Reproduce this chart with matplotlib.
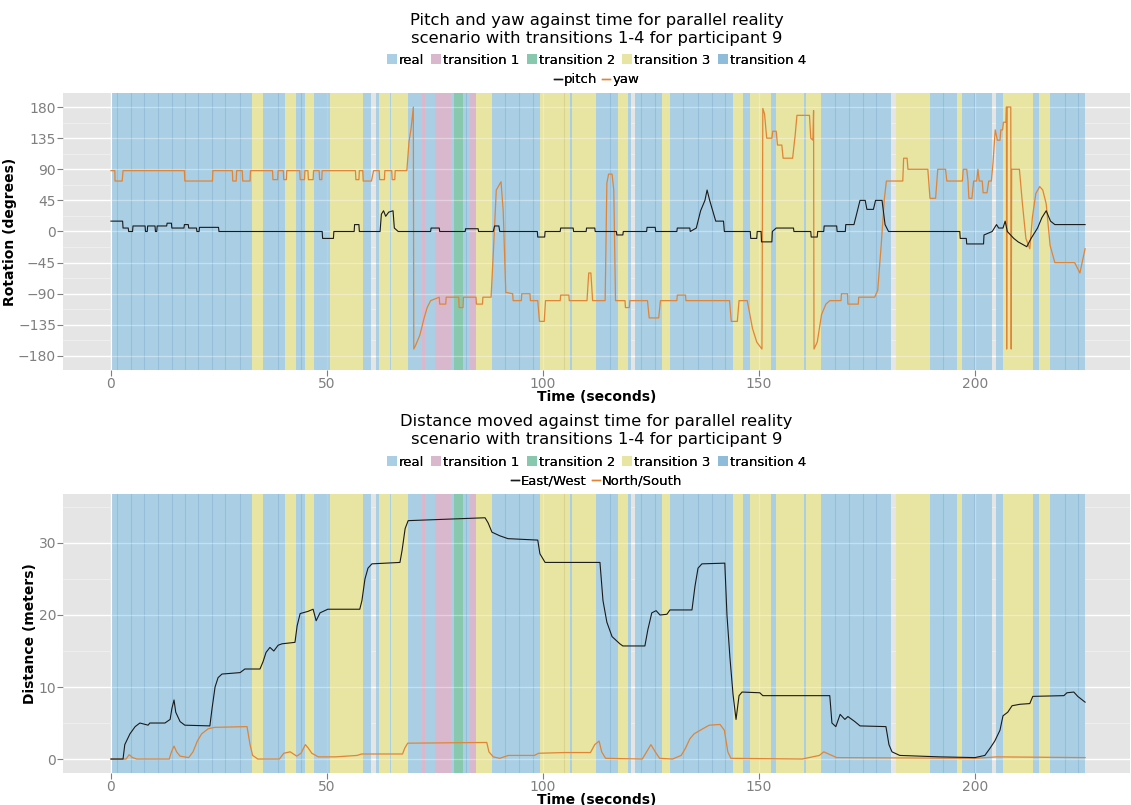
import matplotlib
matplotlib.use('Agg')
import matplotlib.pyplot as plt
from matplotlib.patches import Patch
from matplotlib.lines import Line2D
from matplotlib.ticker import MultipleLocator

# ---------------- data ----------------
span_bounds = [0.15, 1.5, 4.6, 7.7, 10.9, 14.2, 17.1, 20.2, 23.5, 26.5, 29.9, 32.6, 35.3, 38.7,
               40.3, 42.9, 43.9, 44.9, 47.0, 50.1, 50.6, 58.3, 60.3, 61.3, 62.1, 64.6, 64.9, 68.7,
               71.9, 72.7, 75.0, 78.7, 79.4, 81.4, 82.1, 83.2, 84.4, 88.1, 91.2, 94.5, 97.8, 99.3,
               104.9, 106.3, 106.7, 112.3, 115.5, 117.3, 119.6, 120.3, 121.4, 122.8, 125.9, 127.5,
               129.3, 132.5, 135.8, 139.1, 142.1, 143.9, 146.4, 147.9, 152.8, 153.9, 160.5, 160.9,
               164.4, 167.6, 170.9, 174.0, 177.2, 180.6, 181.7, 189.5, 192.7, 195.8, 197.1, 199.8,
               203.9, 204.9, 206.6, 213.5, 214.9, 217.4, 220.8, 223.9, 225.5]
# R = real, 1..4 = transition n, '-' = nothing recorded
span_kind = ("RRRRRRRRRRR"
             "3RR3RR3RR3R-R3R3R1R1R2RR13RRRR33R3RR3R-RRR3RRRRR3R3R3R3RRRRR-3RR3RR-R3R3RRR")

kind_codes = ['R', '1', '2', '3', '4']
kind_names = ['real', 'transition 1', 'transition 2', 'transition 3', 'transition 4']
kind_colors = ['#AACFE5', '#D9B8CD', '#88C8AF', '#E8E4A2', '#8EBCDA']
kind_seams = ['#94BEDA', '#C9A6BC', '#74B89D', '#D8D48F', '#7BAACB']

pitch_t = [0, 2.7, 2.8, 4.0, 4.1, 5.0, 5.1, 7.9, 8.0, 8.4, 8.5, 10.2, 10.3, 10.6, 10.7, 12.9, 13.0,
           14.0, 14.1, 16.9, 17.0, 17.9, 18.0, 19.8, 19.9, 20.4, 20.5, 24.9, 25.0, 48.9, 49.0, 51.5,
           51.6, 56.3, 56.4, 57.4, 57.5, 62.3, 62.6, 63.1, 63.6, 64.3, 65.3, 65.6, 66.5, 74, 74.1,
           76, 76.1, 82, 82.1, 85, 85.1, 88.5, 88.8, 89.8, 90.0, 98.7, 98.8, 100.4, 100.5, 104,
           104.1, 107, 107.1, 110, 110.1, 112, 112.1, 117, 117.1, 118.5, 118.6, 124, 124.1, 126,
           126.1, 131, 131.1, 134, 134.1, 135.5, 136.5, 137.5, 138.0, 138.6, 139.3, 140, 141.8,
           142, 148, 148.1, 149.5, 149.6, 150.5, 150.6, 153, 153.1, 154, 158, 158.1, 162, 162.1,
           163.5, 163.6, 165, 165.1, 168, 168.1, 170, 170.1, 172, 172.8, 173.4, 174.6, 175, 176.5,
           177, 178.5, 179.2, 180, 196.5, 196.6, 198, 198.1, 202, 202.1, 204, 205, 205.5, 206.5,
           207, 207.5, 209, 210, 212, 213, 214.5, 215.5, 216.5, 217.5, 218.5, 225.5]
pitch_v = [15, 15, 5, 5, 0, 0, 8, 8, 0, 0, 8, 8, 0, 0, 8, 8, 12,
           12, 5, 5, 10, 10, 5, 5, 0, 0, 6, 6, 0, 0, -10, -10,
           0, 0, 10, 10, 0, 0, 25, 30, 22, 28, 30, 5, 0, 0, 5,
           5, 0, 0, 4, 4, 0, 0, 8, 8, 0, 0, -8, -8, 0, 0,
           5, 5, 0, 0, 5, 5, 0, 0, -5, -5, 0, 0, 6, 6,
           0, 0, 5, 5, 0, 5, 30, 45, 60, 45, 30, 15, 15,
           0, 0, -10, -10, 0, 0, -15, -15, 0, 5, 5, 0, 0, -8,
           -8, 0, 0, 8, 8, 0, 0, 10, 10, 30, 45, 45, 32, 32,
           45, 45, 10, 0, 0, -10, -10, -18, -18, -5, 0, 10, 5, 5,
           15, 0, -10, -15, -22, -10, 5, 20, 30, 15, 10, 10]

yaw_t = [0, 0.9, 0.95, 2.6, 2.8, 17.0, 17.1, 23.5, 23.6, 28.1, 28.2, 29.0, 29.1, 30.4, 30.5, 32.2,
         32.3, 37.4, 37.5, 38.6, 38.7, 39.9, 40.0, 40.6, 40.7, 43.7, 43.8, 44.8, 44.9, 45.6, 45.7,
         46.8, 46.9, 48.2, 48.3, 48.8, 48.9, 56.6, 56.7, 57.4, 57.5, 58.3, 58.4, 60.3, 60.8, 62.1,
         62.2, 63.3, 63.4, 65.0, 65.1, 65.7, 65.8, 68.5, 69.0, 69.5, 70.0, 70.1, 70.5, 71.5, 72.5,
         73.2, 74, 76, 76.1, 77.5, 77.6, 80.5, 80.6, 81.5, 81.6, 84.5, 84.6, 86, 86.1, 88, 88.6,
         89.2, 90.3, 90.8, 91.4, 93, 93.1, 95, 95.1, 97, 97.1, 98.8, 99.2, 100.3, 100.6, 104, 104.1,
         106, 106.1, 110.2, 110.6, 111.1, 111.5, 114.4, 114.8, 115.2, 116, 116.4, 116.8, 119,
         119.1, 120, 120.1, 124.2, 124.6, 126.8, 127.2, 131, 131.1, 133, 133.1, 143.2, 143.6, 145,
         145.4, 147.3, 148.5, 149.5, 150.7, 150.9, 151.3, 151.8, 153.0, 153.2, 154.0, 154.3,
         155.3, 155.6, 157.8, 158.4, 158.8, 161.7, 162.0, 162.5, 162.65, 162.75, 163.5, 164.5,
         165.5, 166.4, 169, 169.1, 170.5, 170.6, 173, 173.1, 176.8, 177.5, 178.3, 179.0, 179.5,
         183.3, 183.5, 184.3, 184.5, 189.1, 189.6, 190.9, 191.4, 193.2, 193.5, 197.1, 197.3,
         198.1, 198.4, 198.6, 199.3, 199.7, 200.4, 200.7, 201.0, 201.7, 201.9, 202.8, 203.2,
         203.8, 204.2, 204.7, 205.2, 205.8, 206.0, 206.4, 206.6, 207.2, 207.3, 207.35, 207.45,
         208.3, 208.4, 208.5, 210.3, 211.0, 211.8, 212.7, 213.3, 214.1, 215.0, 215.7, 216.5,
         217.4, 218.5, 223.1, 224.3, 225.5]
yaw_v = [88, 88, 73, 73, 88, 88, 73, 73, 88, 88, 73, 73, 88, 88, 73, 73,
         88, 88, 75, 75, 88, 88, 75, 75, 88, 88, 75, 75, 88, 88, 75,
         75, 88, 88, 75, 75, 88, 88, 75, 75, 88, 88, 73, 73, 88, 88,
         75, 75, 88, 88, 75, 75, 88, 88, 130, 150, 180, -170, -165, -150, -125,
         -110, -100, -95, -105, -105, -95, -95, -110, -110, -95, -95, -105, -105, -95, -95, -20,
         60, 72, 30, -88, -90, -100, -100, -90, -90, -100, -100, -130, -130, -100, -100, -92,
         -92, -100, -100, -60, -60, -100, -100, 70, 83, 83, 60, -100, -100,
         -110, -110, -100, -100, -125, -125, -100, -100, -92, -92, -100, -100, -130, -130,
         -100, -100, -140, -160, -170, 178, 170, 135, 135, 145, 145, 125,
         125, 106, 106, 140, 168, 168, 135, 132, 175, -170, -160, -120,
         -105, -100, -100, -90, -90, -105, -105, -95, -95, -85, -20, 45, 73,
         73, 106, 106, 90, 90, 48, 48, 90, 90, 73, 73, 90,
         90, 73, 48, 48, 73, 73, 90, 73, 73, 56, 56, 73,
         73, 100, 147, 132, 132, 147, 147, 158, 158, 180, -170, 180,
         180, -170, 90, 90, 40, -10, -25, 20, 55, 65, 60, 40,
         -20, -45, -45, -60, -25]

ew_t = [0, 2.8, 3.2, 4.4, 5.6, 6.7, 8.6, 9.0, 12.5, 13.7, 14.1, 14.6, 15.0, 16.0, 17.1, 22.9,
        23.4, 24.1, 24.8, 25.7, 29.9, 31.0, 34.5, 35.2, 35.9, 36.8, 37.7, 38.7, 39.6, 42.6, 43.1,
        43.8, 45.6, 46.8, 47.5, 48.4, 50.2, 57.6, 58.1, 58.8, 59.5, 60.4, 66.9, 67.4, 68.1, 68.8,
        86.6, 87.3, 88.2, 90.0, 91.9, 98.8, 99.3, 100.5, 113.2, 113.9, 114.8, 116.0, 117.8, 118.5,
        123.6, 124.3, 125.2, 126.2, 127.1, 128.7, 129.4, 134.5, 135.2, 135.9, 136.8, 142.1, 142.6,
        143.3, 144.0, 144.7, 145.4, 146.1, 150.2, 150.9, 166.4, 166.9, 167.8, 168.8, 169.9, 170.6,
        172.2, 173.4, 179.4, 180.1, 180.8, 182.6, 191.9, 200.0, 202.3, 203.5, 204.6, 205.8, 206.5,
        207.6, 208.6, 210.4, 212.7, 213.4, 220.6, 221.3, 222.9, 223.8, 225.5]
ew_v = [0, 0, 2, 3.5, 4.5, 5, 4.7, 5, 5, 5.5, 7, 8.2, 6.5, 5.2, 4.7, 4.6,
        7, 10, 11.3, 11.8, 12, 12.5, 12.5, 13.5, 14.8, 15.5, 15, 15.8, 16, 16.2, 18.5,
        20.2, 20.5, 20.8, 19.2, 20.3, 20.8, 20.8, 22, 25, 26.5, 27.1, 27.3, 29, 32, 33.1,
        33.5, 32.8, 31.5, 31, 30.6, 30.4, 28.5, 27.3, 27.3, 22, 19, 17, 16, 15.7,
        15.7, 18, 20.3, 20.6, 20, 20.1, 20.7, 20.7, 24, 26.5, 27.1, 27.2, 20,
        14, 9, 5.5, 8.8, 9.3, 9.2, 8.8, 8.8, 5, 4.5, 6.2, 5.5, 5.9,
        5.2, 4.6, 4.5, 2, 1, 0.5, 0.3, 0.2, 0.5, 1.5, 2.5, 4, 6,
        6.5, 7.4, 7.6, 7.7, 8.7, 8.8, 9.2, 9.3, 8.7, 7.9]

ns_t = [0, 3.5, 4.2, 5, 6, 13.5, 14, 14.6, 15.2, 16, 18, 19, 20, 21, 22.5, 24, 31.5, 32.2, 32.8,
        34, 39, 40, 41.5, 43, 44, 45, 45.7, 46.5, 48, 52, 57, 58, 67.5, 68, 68.7, 87, 87.5, 88.5,
        90, 92, 98, 99, 105, 111, 112, 113, 113.6, 114.5, 123, 124, 125, 126, 127, 130, 132, 133,
        134, 135, 137, 138.5, 141, 142, 142.8, 143.5, 160, 164, 165, 166.5, 168, 200, 205, 225.5]
ns_v = [0, 0, 0.6, 0.2, 0, 0, 1, 1.8, 1, 0.4, 0.2, 1, 2.5, 3.5, 4.2, 4.4, 4.5, 2, 0.5,
        0, 0, 0.8, 1, 0.4, 0.8, 2, 1.5, 0.8, 0.3, 0.3, 0.5, 0.7, 0.7, 1.5, 2.2, 2.3, 1, 0.3,
        0.1, 0.5, 0.5, 0.8, 0.9, 0.9, 2, 2.5, 1, 0.1, 0, 1, 2, 1, 0.1, 0, 0.5, 1.5,
        2.8, 3.5, 4.2, 4.7, 4.8, 4, 1, 0.1, 0, 0.5, 1, 0.6, 0.2, 0.1, 0.3, 0.2]

top_title = "Pitch and yaw against time for parallel reality\nscenario with transitions 1-4 for participant 9"
bot_title = "Distance moved against time for parallel reality\nscenario with transitions 1-4 for participant 9"

# ---------------- style ----------------
W, H = 1131, 805
fig = plt.figure(figsize=(W / 100, H / 100), dpi=100)
BG = '#E5E5E5'
TICKC = '#7F7F7F'
BLACK = '#1A1A1A'
ORANGE = '#E08536'
cx = (63 + 1130) / 2 / W

def fy(py):
    return 1 - py / H

def setup(ax, ylim, major, minor):
    ax.set_facecolor(BG)
    for s in ax.spines.values():
        s.set_visible(False)
    ax.set_xlim(-11.1, 235.9)
    ax.set_ylim(*ylim)
    ax.xaxis.set_major_locator(MultipleLocator(50))
    ax.xaxis.set_minor_locator(MultipleLocator(25))
    ax.yaxis.set_major_locator(MultipleLocator(major))
    ax.yaxis.set_minor_locator(MultipleLocator(minor))
    ax.set_axisbelow(True)
    ax.grid(True, which='major', color='white', lw=1.0)
    ax.grid(True, which='minor', color='#F2F2F2', lw=0.5)
    ax.tick_params(which='major', colors=TICKC, labelcolor=TICKC, labelsize=10,
                   length=4, width=0.8, pad=1.0)
    ax.tick_params(which='minor', length=0)
    # background spans
    for i, k in enumerate(span_kind):
        if k == '-':
            continue
        j = kind_codes.index(k)
        ax.axvspan(span_bounds[i], span_bounds[i + 1], color=kind_colors[j], lw=0, zorder=0.6)
        if i > 0 and span_kind[i - 1] == k:
            ax.axvline(span_bounds[i], color=kind_seams[j], lw=0.8, zorder=0.65)
    # faint grid over the spans
    for yv in ax.get_yticks():
        if ylim[0] <= yv <= ylim[1]:
            ax.axhline(yv, color='white', lw=0.9, alpha=0.35, zorder=0.7)
    for xv in [0, 50, 100, 150, 200]:
        ax.axvline(xv, color='white', lw=0.9, alpha=0.3, zorder=0.7)

def legends(ycol, yline, line_labels):
    hs = [Patch(facecolor=c, edgecolor='none') for c in kind_colors]
    lg = fig.legend(hs, kind_names, loc='center', bbox_to_anchor=(cx, fy(ycol)), ncol=5,
                    frameon=False, fontsize=9.5, handlelength=0.75, handleheight=0.75,
                    handletextpad=0.15, columnspacing=0.55, borderpad=0, borderaxespad=0)
    fig.add_artist(lg)
    lh = [Line2D([0], [0], color=BLACK, lw=1), Line2D([0], [0], color=ORANGE, lw=1)]
    lg2 = fig.legend(lh, line_labels, loc='center', bbox_to_anchor=(cx, fy(yline)), ncol=2,
                     frameon=False, fontsize=9.5, handlelength=0.6, handletextpad=0.15,
                     columnspacing=0.4, borderpad=0, borderaxespad=0)
    fig.add_artist(lg2)

L = 63 / W
Wd = (1130 - 63) / W

# ---- top panel ----
ax1 = fig.add_axes([L, fy(370), Wd, (370 - 93) / H])
setup(ax1, (-200.3, 200.3), 45, 22.5)
ax1.plot(yaw_t, yaw_v, color=ORANGE, lw=0.9, zorder=3)
ax1.plot(pitch_t, pitch_v, color=BLACK, lw=0.8, zorder=4)
ax1.set_xlabel('Time (seconds)', fontsize=10, fontweight='bold', labelpad=-1.0)
ax1.set_ylabel('Rotation (degrees)', fontsize=10, fontweight='bold', labelpad=1)
fig.text(cx, fy(29.5), top_title, ha='center', va='center', fontsize=11.8, linespacing=1.25)
legends(60, 80, ['pitch', 'yaw'])

# ---- bottom panel ----
ax2 = fig.add_axes([L, fy(773), Wd, (773 - 494) / H])
setup(ax2, (-1.94, 36.8), 10, 5)
ax2.plot(ns_t, ns_v, color=ORANGE, lw=0.9, zorder=3)
ax2.plot(ew_t, ew_v, color=BLACK, lw=0.8, zorder=4)
ax2.set_xlabel('Time (seconds)', fontsize=10, fontweight='bold', labelpad=-1.0)
ax2.set_ylabel('Distance (meters)', fontsize=10, fontweight='bold', labelpad=1)
fig.text(cx, fy(430.5), bot_title, ha='center', va='center', fontsize=11.8, linespacing=1.25)
legends(462, 481, ['East/West', 'North/South'])

fig.savefig('out.png', dpi=100)
